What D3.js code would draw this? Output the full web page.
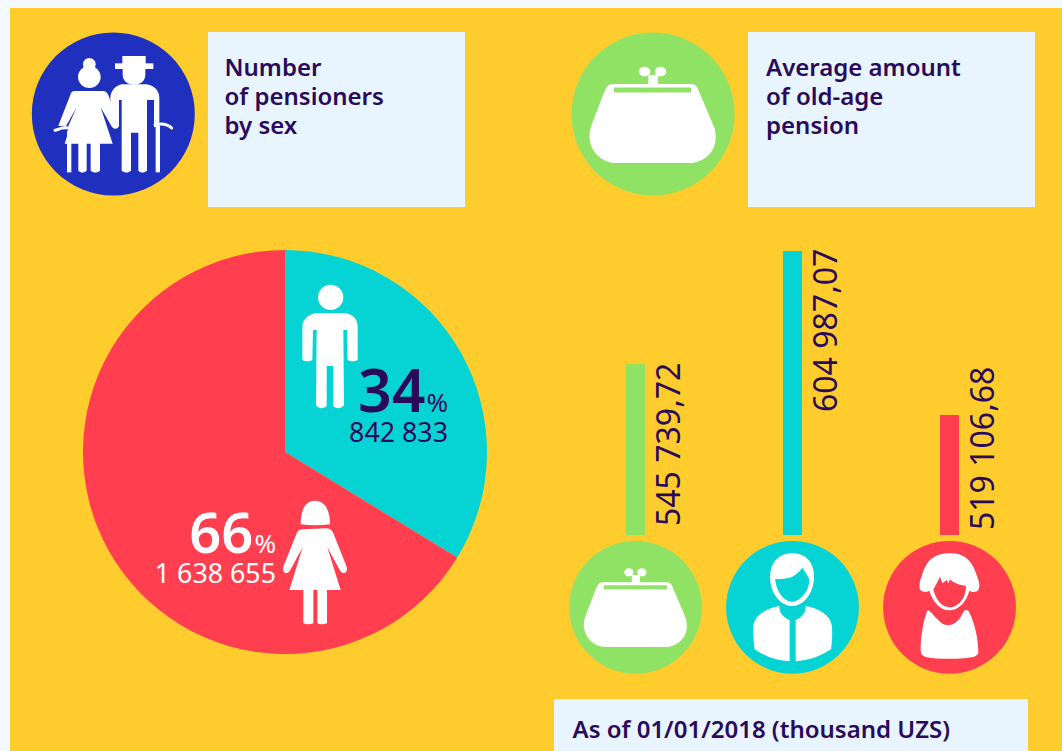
<!DOCTYPE html>
<html>
<head>
<meta charset="utf-8">
<script src="https://cdnjs.cloudflare.com/ajax/libs/d3/7.8.5/d3.min.js"></script>
<style>
html,body{margin:0;padding:0;background:#F4F9FF;overflow:hidden}
svg{display:block}
text{font-family:"Noto Sans",sans-serif}
</style>
</head>
<body>
<svg id="c" width="1062" height="751"></svg>
<script>
// Data
const sexes = ["Men", "Women"];
const sliceShares = [33.75, 66.25]; // slice sizes
const pensionerShares = ["34", "66"];
const pensionerLabels = ["842 833", "1 638 655"];
const pensionCategories = ["Average", "Men", "Women"];
const pensionValues = [545739.72, 604987.07, 519106.68];
const pensionLabels = ["545 739,72", "604 987,07", "519 106,68"];
const titleLeft = ["Number", "of pensioners", "by sex"];
const titleRight = ["Average amount", "of old-age", "pension"];
const footnote = "As of 01/01/2018 (thousand UZS)";

// Style
const YELLOW="#FFCC2E", RED="#FF3F4F", TEAL="#06D4D4", GREEN="#90E264", BLUE="#1F2FBE",
      BOX="#E8F4FE", INK="#2A0A5A", WHITE="#FFFFFF";

const svg = d3.select("#c");
svg.append("rect").attr("x",10).attr("y",8).attr("width",1052).attr("height",743).attr("fill",YELLOW);

// Boxes
[[208,32,257,175],[748,32,287,175],[554,699,474,52]].forEach(b=>{
  svg.append("rect").attr("x",b[0]).attr("y",b[1]).attr("width",b[2]).attr("height",b[3]).attr("fill",BOX);
});
function title(lines,x){
  svg.append("g").selectAll("text").data(lines).join("text")
    .attr("x",x).attr("y",(d,i)=>76+i*29)
    .attr("font-size",24).attr("font-weight",600).attr("fill",INK).text(d=>d);
}
title(titleLeft,224.5); title(titleRight,766);
svg.append("text").attr("x",572.5).attr("y",737.5).attr("font-size",24).attr("font-weight",600).attr("fill",INK).text(footnote);

// Icons: shapes in local units, drawn around a circle centre
const purseBody="M-97,-75 L93,-75 C103,-75 108,-70 111,-62 L151,33 C153,40 154,48 154,58 C154,93 123,119 88,119 L-87,119 C-127,119 -155,88 -155,53 C-155,38 -151,28 -147,18 L-117,-60 C-112,-70 -107,-75 -97,-75Z";
function purse(cx,cy,k,fill){
  const g=svg.append("g").attr("transform",`translate(${cx},${cy}) scale(${k/3})`);
  g.append("path").attr("d",purseBody).attr("fill",WHITE);
  g.append("rect").attr("x",-95).attr("y",-66).attr("width",189).attr("height",12).attr("fill",fill);
  g.append("ellipse").attr("cx",-20).attr("cy",-105).attr("rx",14).attr("ry",12).attr("fill",WHITE);
  g.append("ellipse").attr("cx",19).attr("cy",-105).attr("rx",14).attr("ry",12).attr("fill",WHITE);
  g.append("rect").attr("x",-11).attr("y",-97).attr("width",24).attr("height",24).attr("fill",WHITE);
}
function zoomGroup(ox,oy){ return svg.append("g").attr("transform",`translate(${ox},${oy}) scale(${1/3})`); }

// Header circles
svg.append("circle").attr("cx",113.3).attr("cy",114).attr("r",81.5).attr("fill",BLUE);
svg.append("circle").attr("cx",653).attr("cy",114).attr("r",81.5).attr("fill",GREEN);
purse(652.8,114.5,1.225,GREEN);

// Couple
const cp=zoomGroup(0,0);
cp.append("circle").attr("cx",268).attr("cy",193).attr("r",19).attr("fill",WHITE);
cp.append("ellipse").attr("cx",268).attr("cy",231).attr("rx",34).attr("ry",33).attr("fill",WHITE);
cp.append("path").attr("fill",WHITE).attr("d","M222,273 L312,273 C320,274 324,282 327,290 L357,372 C359,388 340,390 334,378 L302,322 L338,431 L300,431 L300,512 C292,519 280,519 272,512 L272,431 L260,431 L260,512 C252,519 242,519 235,512 L235,431 L194,431 L204,400 L205,378 L230,322 L197,380 L175,377 L212,282 C214,276 218,273 222,273Z");
cp.append("path").attr("fill",WHITE).attr("d","M201,392 L214,392 L214,517 L201,517Z");
cp.append("path").attr("fill","none").attr("stroke",WHITE).attr("stroke-width",9).attr("stroke-linecap","round").attr("d","M165,391 C175,390 180,381 205,384");
cp.append("rect").attr("x",367).attr("y",168).attr("width",70).attr("height",24).attr("fill",WHITE);
cp.append("rect").attr("x",345).attr("y",190).attr("width",115).attr("height",17).attr("fill",WHITE);
cp.append("path").attr("fill",WHITE).attr("d","M368,207 L436,207 L436,225 C436,240 425,254 402,254 C380,254 368,240 368,225Z");
cp.append("path").attr("fill",WHITE).attr("d","M365,253 L440,253 C465,258 478,272 478,295 L478,378 L462,382 L462,300 L441,300 L441,512 C432,519 422,519 415,512 L415,398 L393,398 L393,512 C385,519 373,519 365,512 L365,300 L357,300 L357,372 C355,390 340,388 336,376 L331,295 C332,272 345,258 365,253Z");
cp.append("rect").attr("x",467).attr("y",378).attr("width",13).attr("height",139).attr("fill",WHITE);
cp.append("path").attr("fill","none").attr("stroke",WHITE).attr("stroke-width",9).attr("stroke-linecap","round").attr("d","M465,374 C490,368 505,374 515,384");

// Pie
const pieCx=285, pieCy=452, pieR=202;
const pieGen=d3.pie().sort(null).value(d=>d);
const arcGen=d3.arc().innerRadius(0).outerRadius(pieR);
svg.append("g").attr("transform",`translate(${pieCx},${pieCy})`)
  .selectAll("path").data(pieGen(sliceShares)).join("path")
  .attr("d",arcGen).attr("fill",(d,i)=>[TEAL,RED][i]);

// Pie people
const pm=zoomGroup(140,270);
pm.append("circle").attr("cx",572).attr("cy",82).attr("r",38).attr("fill",WHITE);
pm.append("path").attr("fill",WHITE).attr("d","M487,270 L487,170 C487,145 510,130 535,129 L610,129 C635,130 653,145 653,170 L653,270 C645,275 630,275 623,270 L621,180 L610,180 L612,405 C605,417 588,417 580,408 L580,288 L560,288 L560,408 C552,417 535,417 528,405 L530,180 L519,180 L517,270 C510,275 495,275 487,270Z");
pm.append("path").attr("fill",WHITE).attr("d","M482,763 C482,730 490,692 525,692 C560,692 570,730 570,763 C540,767 510,767 482,763Z");
pm.append("path").attr("fill",WHITE).attr("d","M490,778 L560,775 C570,775 577,782 580,790 L620,890 C625,912 605,915 598,898 L562,832 L602,960 L561,960 L561,1060 C550,1064 540,1064 532,1060 L532,960 L520,960 L520,1060 C510,1064 500,1064 490,1060 L490,960 L448,960 L488,832 L452,898 C445,915 425,912 430,890 L470,790 C475,780 480,778 490,778Z");

// Pie labels: percentages and counts
function share(i,xEnd,base,size,weight,fill){
  const t=svg.append("text").attr("x",xEnd).attr("y",base).attr("text-anchor","end").attr("fill",fill);
  t.append("tspan").attr("font-size",size).attr("font-weight",weight).text(pensionerShares[i]);
  t.append("tspan").attr("font-size",26).attr("font-weight",400).attr("dx",1).text("%");
  svg.append("text").attr("x",xEnd).attr("y",base+30).attr("text-anchor","end")
    .attr("fill",fill).attr("font-size",26.8).text(pensionerLabels[i]);
}
share(0,448,411.5,59,600,INK);
share(1,276,552.5,56,600,WHITE);

// Bars
const barBase=535, barTop=251, barW=19;
const x=d3.scalePoint().domain(pensionCategories).range([635.5,949.5]);
const y=d3.scaleLinear().domain([456266,604987.07]).range([barBase,barTop]);
const barColors=[GREEN,TEAL,RED];
svg.append("g").selectAll("rect").data(pensionValues).join("rect")
  .attr("x",(d,i)=>x(pensionCategories[i])-barW/2)
  .attr("y",d=>y(d))
  .attr("width",barW)
  .attr("height",d=>barBase-y(d))
  .attr("fill",(d,i)=>barColors[i]);

// Value labels, rotated
const labelStart=[526,412,530];
svg.append("g").selectAll("text").data(pensionLabels).join("text")
  .attr("transform",(d,i)=>`translate(${x(pensionCategories[i])+44},${labelStart[i]}) rotate(-90)`)
  .attr("font-size",32).attr("fill",INK).text(d=>d);

// Bottom circles
svg.append("g").selectAll("circle").data(pensionCategories).join("circle")
  .attr("cx",d=>x(d)).attr("cy",607.3).attr("r",66.4).attr("fill",(d,i)=>barColors[i]);
purse(x("Average"),607.3,1,GREEN);

// Man
const mn=zoomGroup(550,530);
mn.append("path").attr("fill",WHITE).attr("d","M726,70 C770,70 792,100 792,140 C792,190 760,228 726,228 C692,228 660,190 660,140 C660,100 685,70 726,70Z");
mn.append("path").attr("fill",TEAL).attr("d","M675,148 C700,146 722,146 735,135 C745,128 752,120 757,113 C765,125 772,135 778,148 C778,185 750,215 726,215 C700,215 680,185 675,148Z");
mn.append("path").attr("fill",WHITE).attr("d","M688,228 C688,250 700,262 719,270 L719,394 C680,392 645,380 614,358 C610,335 610,310 610,290 C612,255 650,235 688,228Z");
mn.append("path").attr("fill",WHITE).attr("d","M767,228 C767,250 755,262 737,270 L737,394 C775,392 810,380 843,358 C847,335 847,310 846,290 C843,255 805,235 767,228Z");

// Woman
const wm=zoomGroup(550,530);
wm.append("path").attr("fill",WHITE).attr("d","M1198,70 C1240,68 1265,90 1278,130 C1286,150 1292,170 1285,180 C1278,188 1265,187 1258,182 C1250,215 1225,241 1198,241 C1170,241 1148,215 1138,182 C1130,187 1118,187 1111,180 C1105,170 1110,150 1118,130 C1130,90 1155,70 1198,70Z");
wm.append("path").attr("fill",RED).attr("d","M1150,178 C1158,165 1165,150 1170,140 L1177,160 L1190,150 L1195,160 L1200,148 C1210,160 1230,165 1248,168 C1248,205 1225,232 1198,232 C1175,232 1155,205 1150,178Z");
wm.append("path").attr("fill",WHITE).attr("d","M1133,240 C1145,245 1150,258 1165,270 C1180,292 1220,295 1240,245 C1245,238 1252,238 1257,245 C1275,280 1285,330 1285,365 C1285,375 1275,380 1265,382 C1225,388 1165,388 1130,382 C1118,378 1112,372 1112,360 C1112,320 1120,270 1133,240Z");
</script>
</body>
</html>
